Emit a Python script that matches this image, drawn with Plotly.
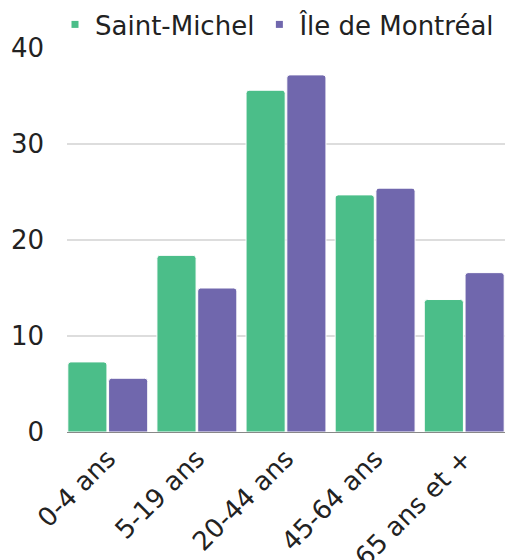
import plotly.graph_objects as go

categories = ["0-4 ans", "5-19 ans", "20-44 ans", "45-64 ans", "65 ans et +"]
saint_michel = [7.3, 18.4, 35.6, 24.7, 13.8]
ile_montreal = [5.6, 15.0, 37.2, 25.4, 16.6]
series_names = ["Saint-Michel", "Île de Montréal"]
colors = ["#4bbe89", "#7067ad"]
y_ticks = [0, 10, 20, 30, 40]

FONT = "DejaVu Sans"
FS = 26

fig = go.Figure()
for name, vals, col in zip(series_names, [saint_michel, ile_montreal], colors):
    fig.add_trace(go.Bar(
        x=categories, y=vals, name=name,
        marker=dict(color=col, line=dict(color="white", width=1)),
        showlegend=False,
    ))
    fig.add_trace(go.Scatter(
        x=[None], y=[None], mode="markers", name=name,
        marker=dict(symbol="square", size=7, color=col),
        showlegend=True,
    ))

g = 0.085
W, H = 505, 560
ml, mr, mt, mb = 67, 0, 48, 128
plot_w = W - ml - mr

fig.update_layout(
    width=W, height=H,
    margin=dict(l=ml, r=mr, t=mt, b=mb, autoexpand=False),
    paper_bgcolor="white", plot_bgcolor="white",
    barmode="group", bargap=g, bargroupgap=0.04,
    barcornerradius=3,
    font=dict(family=FONT, size=FS, color="#222222"),
    legend=dict(orientation="h", x=(55 - ml) / plot_w, y=1.0,
                xanchor="left", yanchor="bottom",
                font=dict(size=FS), itemwidth=30, tracegroupgap=0,
                bgcolor="rgba(0,0,0,0)"),
    xaxis=dict(
        type="category", automargin=False,
        range=[-(1 - g) / 2, 4 + (1 - g) / 2],
        tickangle=-45, showgrid=False, ticks="",
        showline=True, linecolor="#888888", linewidth=1,
        tickfont=dict(size=FS),
    ),
    yaxis=dict(
        automargin=False,
        range=[0, 40], tickvals=y_ticks, showgrid=True, gridcolor="#dddddd",
        gridwidth=1.5, zeroline=False, ticks="", ticklabelstandoff=22,
        tickfont=dict(size=FS),
    ),
)
fig.write_html(
    "out.html",
    config={"displayModeBar": False},
    post_script="document.body.style.margin='0';document.body.style.overflow='hidden';",
)
